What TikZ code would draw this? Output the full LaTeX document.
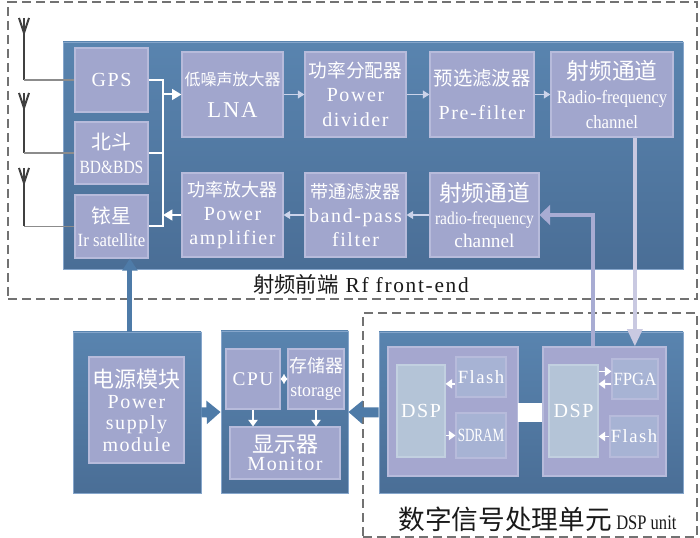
\documentclass[tikz,border=0pt]{standalone}
\usepackage{fontspec}
\setmainfont{Liberation Serif}[LetterSpace=8]
\newfontfamily\plainserif{Liberation Serif}
\newfontfamily\cjk{Noto Sans CJK SC}
\usepackage{graphicx}
\usetikzlibrary{arrows.meta}

\definecolor{panelTop}{HTML}{5984AF}
\definecolor{panelBot}{HTML}{4A6E96}
\definecolor{panelEdge}{HTML}{86A6CB}
\definecolor{blkFill}{HTML}{A1A6CD}
\definecolor{blkEdge}{HTML}{B7BBDB}
\definecolor{grpFill}{HTML}{A5A7CF}
\definecolor{coreFill}{HTML}{B4C4D7}
\definecolor{coreEdge}{HTML}{C2D0E0}
\definecolor{subFill}{HTML}{A7B3D4}
\definecolor{antGray}{HTML}{404040}
\definecolor{feedGray}{HTML}{8C8C8C}
\definecolor{upLine}{HTML}{A8ACD3}
\definecolor{downLine}{HTML}{C9C9E1}
\definecolor{flowLine}{HTML}{CBD3EA}
\definecolor{powBlue}{HTML}{4E7BA8}
\definecolor{dashGray}{HTML}{727272}

\newcommand{\zhs}[2]{{\cjk\fontsize{#1}{18}\selectfont #2}}
\newcommand{\narrowtxt}[3]{\scalebox{#1}[1]{\plainserif\fontsize{#2}{18}\selectfont #3}}

\begin{document}
\begin{tikzpicture}[x=0.75pt, y=-0.75pt, >=Latex,
	sz/.style 2 args = {minimum width=#1*0.75pt, minimum height=#2*0.75pt},
	frame/.style = {draw=dashGray, line width=0.8pt, dash pattern=on 7pt off 3.5pt, inner sep=0pt},
	panel/.style = {draw=panelEdge, line width=0.6pt, top color=panelTop, bottom color=panelBot, inner sep=0pt},
	blk/.style = {draw=blkEdge, line width=0.8pt, fill=blkFill, inner sep=0pt, text=white, align=center, font=\fontsize{15}{18}\selectfont},
	grp/.style = {blk, fill=grpFill},
	core/.style = {blk, fill=coreFill, draw=coreEdge},
	sub/.style = {blk, fill=subFill},
	bus/.style = {draw=white, line width=1.5pt},
	busarrow/.style = {bus, -{Triangle[width=8pt,length=7pt]}},
	flow/.style = {draw=flowLine, line width=0.8pt, -{Triangle[width=6pt,length=5pt]}},
	wflow/.style = {draw=white, line width=1pt, -{Triangle[width=7pt,length=5pt]}},
	fat/.style = {draw=powBlue, line width=7.5pt, -{Triangle[width=17pt,length=10.5pt]}},
	powup/.style = {draw=powBlue, line width=3.75pt, -{Triangle[width=11pt,length=9pt]}},
	rfdown/.style = {draw=downLine, line width=3pt, -{Triangle[width=11pt,length=13pt]}},
	rfup/.style = {draw=upLine, line width=3pt, -{Triangle[width=15pt,length=8pt]}},
	mast/.style = {draw=antGray, line width=1.5pt},
	feed/.style = {draw=feedGray, line width=1.2pt},
	lbl/.style = {text=black!90}
	]
	\useasboundingbox (0,0) rectangle (700,538);
	%Cornici tratteggiate
	\node[frame, sz={689}{297}] (rfframe) at (352.5,150.5) {};
	\node[frame, sz={334}{224}] (dspframe) at (530,425) {};
	%Pannelli
	\node[panel, sz={620}{227}] (rfpanel) at (373,155.5) {};
	\node[panel, sz={128}{161}] (pwrpanel) at (137,412.5) {};
	\node[panel, sz={127}{162}] (cpupanel) at (284.5,412) {};
	\node[panel, sz={304}{161}] (dsppanel) at (531,412.5) {};
	%Antenne
	\coordinate (ant1) at (24,18);
	\coordinate (ant2) at (24,93);
	\coordinate (ant3) at (24,168);
	%Ricevitori
	\node[blk, sz={73}{64}] (gps) at (111.5,80) {\raisebox{-3pt}{GPS}};
	\node[blk, sz={73}{62}] (bd) at (111.5,153) {\zhs{15}{北斗}\\\narrowtxt{0.83}{14}{BD\&BDS}};
	\node[blk, sz={73}{63}] (ir) at (111.5,226.5) {\zhs{15}{铱星}\\[-1pt]\narrowtxt{0.9}{14}{Ir satellite}};
	%Catena di ricezione
	\node[blk, sz={101}{85}] (lna) at (232.5,94.5) {\zhs{12}{低噪声放大器}\\[6pt]{\fontsize{17}{18}\selectfont LNA}};
	\node[blk, sz={101}{85}] (pdiv) at (355.5,94.5) {\zhs{14}{功率分配器}\\Power\\[1pt]divider};
	\node[blk, sz={104}{85}] (pre) at (482,94.5) {\zhs{14.5}{预选滤波器}\\[8pt]Pre-filter};
	\node[blk, sz={122}{85}] (rfch) at (612,94.5) {\zhs{17}{射频通道}\\\narrowtxt{0.88}{14}{Radio-frequency}\\[1pt]\narrowtxt{0.9}{14}{channel}};
	%Catena di trasmissione
	\node[blk, sz={101}{84}] (pa) at (232.5,215) {\zhs{13.5}{功率放大器}\\Power\\amplifier};
	\node[blk, sz={101}{84}] (bpf) at (355.5,215) {\zhs{13.5}{带通滤波器}\\band-pass\\filter};
	\node[blk, sz={109}{84}] (rfch2) at (484.5,215) {\zhs{17}{射频通道}\\[-1pt]\narrowtxt{0.86}{13.5}{radio-frequency}\\[-1pt]\narrowtxt{1}{14.5}{channel}};
	%Alimentazione e controllo
	\node[blk, sz={95}{106}] (pwr) at (136.5,410) {\zhs{16.5}{电源模块}\\[-2pt]Power\\[-2pt]supply\\[-2pt]module};
	\node[blk, sz={54}{60}] (cpu) at (253,379) {\fontsize{14.5}{18}\selectfont CPU};
	\node[blk, sz={56}{60}] (mem) at (316,379) {\zhs{13.5}{存储器}\\\narrowtxt{0.95}{14}{storage}};
	\node[blk, sz={110}{52}] (mon) at (285,453) {\zhs{16.5}{显示器}\\[-4pt]Monitor};
	%Unita DSP
	\node[grp, sz={130}{129}] (dspA) at (453,411.5) {};
	\node[core, sz={48}{92}] (dspAcore) at (421,411) {DSP};
	\node[sub, sz={50}{40}] (flashA) at (481,377) {\fontsize{14}{18}\selectfont Flash};
	\node[sub, sz={50}{45}] (sdram) at (481,435.5) {\narrowtxt{0.7}{14}{SDRAM}};
	\node[fill=white, inner sep=0pt, sz={25}{19}] (bridge) at (530.5,412.5) {};
	\node[grp, sz={123}{129}] (dspB) at (604.5,411.5) {};
	\node[core, sz={49}{92}] (dspBcore) at (573.5,411) {DSP};
	\node[sub, sz={46}{40}] (fpga) at (635,379) {\narrowtxt{0.9}{14}{FPGA}};
	\node[sub, sz={48}{41}] (flashB) at (634,436.5) {\fontsize{14}{18}\selectfont Flash};
	%Didascalie
	\node[lbl, font=\fontsize{16}{18}\selectfont] (rflabel) at (361,284) {\zhs{16}{射频前端} Rf front-end};
	\node[lbl] (dsplabel) at (537.5,519) {\zhs{20}{数字信号处理单元} \narrowtxt{0.8}{15.5}{DSP unit}};
	%Antenne e alimentazioni
	\foreach \a/\b in {ant1/gps, ant2/bd, ant3/ir}{
		\draw[mast] (\a) -- (\a |- \b.west);
		\draw[mast] (\a) ++(-5,0) -- ++(5,15) -- ++(5,-15);
		\draw[feed] (\a |- \b.west) -- (\b.west);
	}
	%Bus dei ricevitori
	\coordinate (bus) at (163,0);
	\draw[bus] (gps.east) -- (gps.east -| bus) -- (ir.east -| bus) -- (ir.east);
	\draw[bus] (bd.east) -- (bd.east -| bus);
	\draw[busarrow] (lna.west -| bus) -- (lna.west);
	\draw[busarrow] (pa.west) -- (pa.west -| bus);
	%Catene
	\draw[flow] (lna) -- (pdiv);
	\draw[flow] (pdiv) -- (pre);
	\draw[flow] (pre) -- (rfch);
	\draw[flow] (rfch2) -- (bpf);
	\draw[flow] (bpf) -- (pa);
	%Collegamenti RF - DSP
	\draw[rfdown] (rfch.-62) -- (rfch.-62 |- dspB.north);
	\draw[rfup] (dspB.100) |- (rfch2.east);
	%Controllo
	\draw[wflow] (cpu.south) -- (cpu.south |- mon.north);
	\draw[wflow] (mem.south) -- (mem.south |- mon.north);
	\draw[white, line width=0.8pt, {Triangle[width=7pt,length=3pt]}-{Triangle[width=7pt,length=3pt]}] (cpu.east) -- (mem.west);
	%DSP interni
	\draw[wflow] (flashA.195) -- (dspAcore.east |- flashA.195);
	\draw[wflow] (dspAcore.east |- sdram.west) -- (sdram.west);
	\draw[wflow] (dspBcore.east |- fpga.162) -- (fpga.162);
	\draw[wflow] (fpga.192) -- (dspBcore.east |- fpga.192);
	\draw[wflow] (flashB.west) -- (dspBcore.east |- flashB.west);
	%Frecce grosse
	\draw[powup] (pwrpanel.95) -- (pwrpanel.95 |- ir.south);
	\draw[fat] (pwrpanel.east) -- (cpupanel.west);
	\draw[fat] (dsppanel.west) -- (cpupanel.east);
\end{tikzpicture}
\end{document}
